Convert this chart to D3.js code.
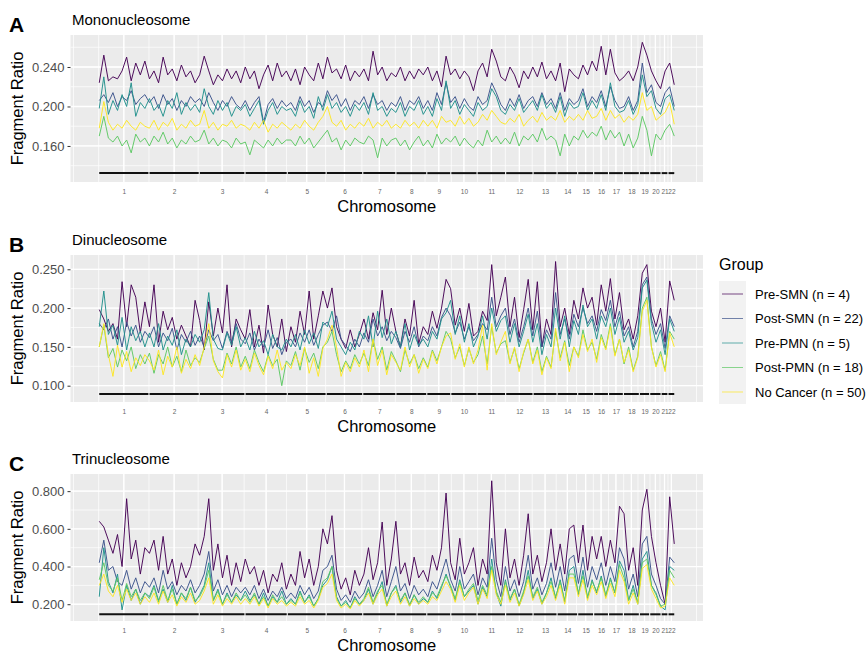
<!DOCTYPE html>
<html>
<head>
<meta charset="utf-8">
<script src="https://cdn.jsdelivr.net/npm/d3@7"></script>
<style>
  body { margin: 0; background: #fff; }
  text { font-family: "Liberation Sans", Arial, Helvetica, sans-serif; }
</style>
</head>
<body>
<svg id="chart" width="868" height="652"></svg>
<script>
// groups and viridis colours
const groups = ["Pre-SMN (n = 4)", "Post-SMN (n = 22)", "Pre-PMN (n = 5)", "Post-PMN (n = 18)", "No Cancer (n = 50)"];
const groupColors = ["#440154", "#3B528B", "#21908C", "#5DC863", "#FDE725"];

// chromosome labels and number of 5Mb bins in each
const chromNames = ["1","2","3","4","5","6","7","8","9","10","11","12","13","14","15","16","17","18","19","20","21","22"];
const chromBins = [44,44,40,37,34,32,29,27,21,23,25,24,21,18,14,13,13,14,9,10,6,6];

// fragment ratios (x1000), sampled about every 4 bins along the genome
const monoPreSMN = [
  224,252,226,230,228,236,250,226,244,232,246,228,236,224,250,232,238,226,242,230,236,224,
  232,251,236,222,232,226,238,228,236,224,240,228,236,218,232,242,226,244,230,236,
  226,238,222,240,232,226,244,228,250,234,238,228,242,226,236,230,238,226,256,232,240,226,234,
  230,240,226,236,228,238,232,240,226,236,220,251,232,238,228,236,230,216,
  236,244,230,258,246,230,226,240,232,219,236,228,240,230,245,228,236,
  226,244,215,238,232,228,242,232,246,236,261,232,258,234,226,230,236,226,240,
  265,252,236,226,218,236,244,222];
const monoPostSMN = [
  206,212,204,214,200,210,206,216,202,208,212,204,210,198,212,202,208,196,206,200,210,204,
  208,200,214,204,196,206,200,210,202,198,206,196,204,210,184,202,208,198,206,200,
  204,196,210,200,206,194,204,200,216,206,212,200,208,196,206,202,210,198,212,202,206,196,204,
  200,210,196,206,202,210,198,206,196,214,202,224,204,210,198,208,200,196,
  210,202,206,224,214,202,196,208,200,212,198,206,210,200,214,202,208,
  198,214,196,208,202,206,218,200,210,204,216,200,220,206,198,200,210,196,206,
  244,214,222,204,200,214,220,200];
const monoPrePMN = [
  198,230,192,206,196,212,200,224,190,204,198,208,196,202,190,206,198,214,192,204,196,202,
  194,218,200,192,206,196,204,190,200,196,202,190,198,206,182,196,204,192,200,196,
  198,190,206,194,200,188,210,196,212,198,204,194,200,190,202,196,204,192,214,196,200,190,198,
  194,204,190,200,196,206,192,200,190,208,196,226,198,206,192,202,196,190,
  204,196,200,218,210,196,192,202,196,208,194,200,206,196,212,198,204,
  194,210,190,204,198,200,214,196,206,198,212,196,224,200,194,196,206,192,202,
  232,210,216,198,192,208,212,196];
const monoPostPMN = [
  170,190,168,164,170,160,166,153,172,164,168,160,170,164,174,162,168,158,166,162,170,164,
  166,176,162,168,160,166,164,158,168,162,164,151,166,162,158,166,160,168,162,166,
  166,160,170,162,168,158,164,170,176,164,168,156,166,160,168,164,162,170,166,148,168,160,166,
  168,160,166,156,164,170,160,166,158,172,162,168,164,170,160,168,162,158,
  166,160,176,164,170,162,168,162,174,160,170,166,172,164,178,166,170,
  166,150,172,160,170,166,176,168,174,170,180,166,176,168,174,160,172,158,168,
  190,176,150,172,166,176,182,170];
const monoNoCancer = [
  178,205,184,176,182,178,186,180,176,184,180,178,186,176,184,180,188,176,182,178,186,180,
  182,196,178,184,176,182,180,186,178,182,180,176,184,178,186,174,182,178,184,180,
  176,182,178,186,180,176,184,190,200,184,180,186,176,182,178,184,180,188,178,184,180,186,178,
  182,178,186,180,184,178,186,180,186,178,190,184,186,180,190,182,188,180,
  184,192,186,196,190,184,182,188,184,192,180,186,190,184,194,186,190,
  186,196,184,190,186,192,186,196,188,190,198,186,196,188,192,184,190,186,192,
  214,196,200,186,190,194,204,182];

const diPreSMN = [
  198,186,170,180,160,234,176,230,214,168,208,176,230,156,196,172,188,160,178,164,150,210,
  184,146,208,164,200,168,230,150,186,172,160,198,150,178,142,204,166,150,186,144,
  176,156,196,166,222,160,190,222,200,226,176,160,148,172,150,166,186,160,194,172,223,166,200,
  170,150,186,164,210,154,176,166,196,174,200,237,225,178,200,170,206,164,
  170,196,184,256,190,214,240,176,214,162,198,237,172,234,150,186,166,
  260,176,200,166,210,186,226,200,214,178,230,196,238,186,220,172,186,160,190,
  245,256,196,176,200,156,235,210];
const diPostSMN = [
  180,172,186,160,176,150,182,164,178,156,170,162,176,150,168,158,174,146,166,156,170,152,
  164,150,172,158,166,148,170,156,180,160,154,168,146,160,150,172,148,162,140,156,
  160,150,168,156,172,152,166,178,182,170,190,160,152,144,160,150,168,156,186,164,176,158,170,
  162,148,170,156,176,150,164,158,176,164,188,200,190,168,182,160,176,158,
  166,180,172,214,176,190,200,166,186,156,176,200,164,196,150,172,160,
  220,166,186,160,192,176,200,180,190,170,198,184,210,176,196,164,176,150,170,
  230,240,186,166,180,148,190,176];
const diPrePMN = [
  176,222,166,178,152,188,146,176,158,170,150,168,150,180,146,164,152,172,140,160,150,166,
  156,172,220,160,148,146,168,152,176,150,162,146,170,150,158,140,166,150,146,160,
  150,166,146,172,154,168,148,182,176,196,160,150,140,156,146,170,160,190,150,196,162,186,154,
  170,150,180,146,166,152,160,150,170,160,186,194,210,166,190,156,180,150,
  164,190,160,200,170,184,190,156,180,150,170,192,156,180,140,166,150,
  200,160,190,150,184,166,204,176,186,160,190,176,200,166,188,156,170,146,162,
  226,236,180,156,172,140,186,170];
const diPostPMN = [
  150,178,136,148,124,146,132,150,122,140,128,142,116,140,128,150,124,138,118,146,126,136,
  130,148,164,134,120,120,142,128,150,124,138,122,146,130,118,140,126,134,100,132,
  126,144,120,148,130,142,122,150,156,170,140,118,132,122,140,128,142,126,160,134,150,120,144,
  132,118,146,128,140,122,136,124,146,132,150,170,160,136,150,126,148,130,
  140,164,128,176,142,154,158,130,148,122,142,160,130,150,118,138,124,
  170,136,158,126,150,138,172,146,156,134,166,148,180,140,160,128,150,120,138,
  200,214,150,126,144,120,170,160];
const diNoCancer = [
  150,180,140,112,152,124,144,118,136,126,140,132,120,146,114,138,124,150,116,134,122,140,
  126,150,180,132,118,110,140,124,146,120,134,118,142,126,114,138,122,146,120,130,
  122,140,126,150,116,136,112,148,160,178,150,112,130,118,136,124,146,118,160,126,146,114,140,
  130,120,150,124,140,116,134,122,144,128,150,164,168,134,154,124,150,128,
  146,178,120,180,140,156,170,128,150,118,144,160,128,146,114,136,122,
  174,132,156,118,150,136,166,144,160,130,162,146,176,138,160,130,146,118,136,
  196,210,150,124,140,118,168,150];

const triPreSMN = [
  640,610,540,470,570,400,760,440,540,360,500,470,540,380,560,360,440,300,420,340,400,520,
  460,560,760,380,520,340,460,300,420,320,440,360,400,300,380,260,360,320,420,280,
  360,300,480,340,440,300,400,600,520,670,380,280,340,250,380,300,360,500,330,420,636,300,440,
  640,360,420,300,450,340,380,320,460,380,500,790,420,330,550,360,420,500,
  300,440,360,855,420,300,600,340,440,300,460,680,360,460,320,420,600,
  380,520,360,600,620,420,620,380,560,440,560,400,540,420,720,680,380,500,300,
  700,810,560,420,300,200,770,520];
const triPostSMN = [
  420,540,380,400,320,300,380,280,340,260,320,290,340,260,380,280,320,250,300,270,330,260,
  300,360,480,270,330,250,300,240,290,260,290,250,300,230,280,220,270,240,290,230,
  260,230,300,250,290,230,270,380,400,460,280,220,250,210,270,230,260,330,240,300,380,240,320,
  400,270,310,230,300,250,280,240,320,280,360,440,330,270,400,280,320,360,
  250,340,290,550,330,240,400,270,330,240,320,460,280,340,250,310,420,
  290,400,270,440,460,310,450,290,400,330,420,300,400,320,500,440,280,360,240,
  520,560,360,300,230,200,450,420];
const triPrePMN = [
  240,500,320,260,360,170,300,220,280,200,260,240,300,220,280,210,300,200,260,220,290,210,
  250,300,420,220,280,200,260,210,250,220,270,220,250,200,260,190,240,210,270,200,
  230,200,270,210,250,190,230,300,330,400,240,190,220,180,240,200,220,280,200,260,320,190,260,
  300,210,260,190,250,200,230,210,270,230,290,360,290,220,330,240,270,300,
  200,290,240,440,260,190,330,220,280,190,260,380,230,280,200,260,340,
  230,330,210,380,400,250,380,230,330,260,350,240,340,260,430,380,220,300,200,
  440,480,300,260,190,170,400,380];
const triPostPMN = [
  330,420,300,270,340,220,310,240,280,220,260,230,290,210,300,220,280,200,260,230,290,220,
  240,290,380,220,270,200,250,210,260,220,250,210,260,200,240,190,250,210,240,200,
  220,200,260,210,240,190,230,320,340,400,230,190,210,180,230,200,230,290,210,270,300,200,260,
  290,220,260,200,250,210,240,210,260,240,300,350,300,230,320,240,280,310,
  220,300,250,400,270,210,320,230,280,200,270,350,240,290,210,260,320,
  240,320,220,360,360,260,350,240,320,270,340,250,330,260,410,340,220,280,210,
  420,440,300,250,190,200,380,340];
const triNoCancer = [
  300,360,270,240,300,210,280,220,260,200,240,210,260,200,270,210,250,190,240,210,260,200,
  220,270,340,200,250,190,230,200,240,200,230,200,240,190,230,180,230,200,220,190,
  210,190,240,200,220,180,220,290,310,360,220,180,200,175,220,190,220,260,200,250,280,190,240,
  270,200,240,190,230,200,220,200,240,220,270,320,280,210,300,220,260,290,
  200,280,230,380,250,200,300,210,260,190,250,330,220,270,200,240,300,
  220,300,200,340,340,240,330,220,300,250,320,230,310,240,380,320,200,260,200,
  390,410,280,230,180,190,340,300];

// panel titles, y ticks and the level of the chromosome track
const panelLetters = ["A", "B", "C"];
const panelTitles = ["Mononucleosome", "Dinucleosome", "Trinucleosome"];
const yTicks = [[0.16, 0.20, 0.24], [0.10, 0.15, 0.20, 0.25], [0.2, 0.4, 0.6, 0.8]];
const yLimits = [[0.1235, 0.2724], [0.079, 0.2684], [0.111, 0.891]];
const trackLevel = [0.1325, 0.0893, 0.1465];
const panelSeries = [
  [monoPreSMN, monoPostSMN, monoPrePMN, monoPostPMN, monoNoCancer],
  [diPreSMN, diPostSMN, diPrePMN, diPostPMN, diNoCancer],
  [triPreSMN, triPostSMN, triPrePMN, triPostPMN, triNoCancer]
];

const svg = d3.select("#chart");
const plotLeft = 70.5, plotRight = 703, plotH = 147;
const panelTops = [35, 255, 474];

const total = d3.sum(chromBins);
const starts = [];
let acc = 1;
chromBins.forEach(b => { starts.push(acc); acc += b; });
const ends = starts.map((s, i) => s + chromBins[i] - 1);
const centers = starts.map((s, i) => (s + ends[i]) / 2);
const pad = (total - 1) * 0.05;

const x = d3.scaleLinear().domain([1 - pad, total + pad]).range([plotLeft, plotRight]);

// ggplot style minor breaks: midpoints between majors, extended one step each side
function minorBreaks(major, lo, hi) {
  const bd = major[1] - major[0];
  const b = [major[0] - bd].concat(major, [major[major.length - 1] + bd]);
  const out = [];
  for (let i = 0; i < b.length - 1; i++) out.push(b[i], (b[i] + b[i + 1]) / 2);
  out.push(b[b.length - 1]);
  return out.filter(v => v >= lo && v <= hi);
}

panelTitles.forEach((title, p) => {
  const top = panelTops[p];
  const y = d3.scaleLinear().domain(yLimits[p]).range([top + plotH, top]);
  const g = svg.append("g");

  g.append("rect")
    .attr("x", plotLeft).attr("y", top)
    .attr("width", plotRight - plotLeft).attr("height", plotH)
    .attr("fill", "#EBEBEB");

  // grid
  const xMin = minorBreaks(centers, x.domain()[0], x.domain()[1]);
  const yMin = minorBreaks(yTicks[p], yLimits[p][0], yLimits[p][1]);
  g.selectAll(".vmin").data(xMin).enter().append("line")
    .attr("x1", d => x(d)).attr("x2", d => x(d))
    .attr("y1", top).attr("y2", top + plotH)
    .attr("stroke", "#fff").attr("stroke-width", 0.7);
  g.selectAll(".hmin").data(yMin).enter().append("line")
    .attr("x1", plotLeft).attr("x2", plotRight)
    .attr("y1", d => y(d)).attr("y2", d => y(d))
    .attr("stroke", "#fff").attr("stroke-width", 0.7);
  g.selectAll(".vmaj").data(centers).enter().append("line")
    .attr("x1", d => x(d)).attr("x2", d => x(d))
    .attr("y1", top).attr("y2", top + plotH)
    .attr("stroke", "#fff").attr("stroke-width", 1.3);
  g.selectAll(".hmaj").data(yTicks[p]).enter().append("line")
    .attr("x1", plotLeft).attr("x2", plotRight)
    .attr("y1", d => y(d)).attr("y2", d => y(d))
    .attr("stroke", "#fff").attr("stroke-width", 1.3);

  // series lines
  const line = d3.line().x(d => x(d[0])).y(d => y(d[1]));
  panelSeries[p].forEach((arr, k) => {
    const pts = arr.map((v, i) => [1 + i * (total - 1) / (arr.length - 1), v / 1000]);
    g.append("path")
      .datum(pts)
      .attr("d", line)
      .attr("fill", "none")
      .attr("stroke", groupColors[k])
      .attr("stroke-width", 0.95)
      .attr("stroke-linejoin", "round");
  });

  // chromosome track
  g.selectAll(".seg").data(starts).enter().append("line")
    .attr("x1", d => x(d)).attr("x2", (d, i) => x(ends[i]))
    .attr("y1", y(trackLevel[p])).attr("y2", y(trackLevel[p]))
    .attr("stroke", "#111").attr("stroke-width", 2);

  // y axis
  const yAxis = g.append("g")
    .attr("transform", "translate(" + plotLeft + ",0)")
    .call(d3.axisLeft(y).tickValues(yTicks[p]).tickFormat(d3.format(".3f")).tickSize(3).tickPadding(3));
  yAxis.select(".domain").remove();
  yAxis.selectAll("line").attr("stroke", "#333").attr("stroke-width", 1);
  yAxis.selectAll("text").attr("fill", "#4d4d4d").style("font-size", "13px")
    .style("font-family", "'Liberation Sans', Arial, sans-serif");

  // x axis labels
  const xAxis = g.append("g")
    .attr("transform", "translate(0," + (top + plotH) + ")")
    .call(d3.axisBottom(x).tickValues(centers).tickFormat((d, i) => chromNames[i]).tickSize(0).tickPadding(7.5));
  xAxis.select(".domain").remove();
  xAxis.selectAll("text").attr("fill", "#666").style("font-size", "6.5px")
    .style("font-family", "'Liberation Sans', Arial, sans-serif");

  g.append("text")
    .attr("x", (plotLeft + plotRight) / 2).attr("y", top + plotH + 29.5)
    .attr("text-anchor", "middle").style("font-size", "16.5px")
    .text("Chromosome");

  g.append("text")
    .attr("transform", "translate(17," + (top + plotH / 2) + ") rotate(-90)")
    .attr("text-anchor", "middle").attr("dy", "0.35em").style("font-size", "16.5px")
    .text("Fragment Ratio");

  g.append("text")
    .attr("x", 72).attr("y", top - 10.5)
    .style("font-size", "15px")
    .text(title);

  g.append("text")
    .attr("x", 9).attr("y", top - 3)
    .style("font-size", "21px").style("font-weight", "bold")
    .text(panelLetters[p]);
});

// legend
const leg = svg.append("g").attr("transform", "translate(719,0)");
leg.append("text").attr("x", 0).attr("y", 270).style("font-size", "16px").text("Group");
leg.append("rect").attr("x", 0).attr("y", 281).attr("width", 27).attr("height", 123).attr("fill", "#F2F2F2");
groups.forEach((name, k) => {
  const cy = 294 + k * 24.5;
  leg.append("line")
    .attr("x1", 3).attr("x2", 24).attr("y1", cy).attr("y2", cy)
    .attr("stroke", groupColors[k]).attr("stroke-width", 1).attr("opacity", 0.7);
  leg.append("text")
    .attr("x", 36).attr("y", cy).attr("dy", "0.35em")
    .style("font-size", "13px").text(name);
});
</script>
</body>
</html>
